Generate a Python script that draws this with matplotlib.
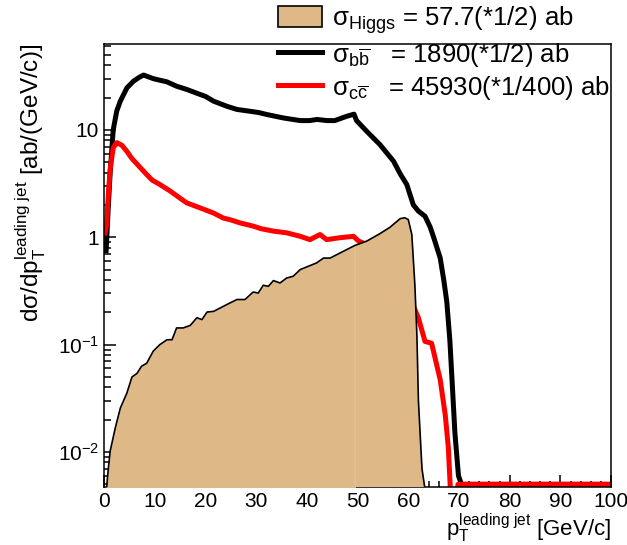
import numpy as np
import matplotlib.pyplot as plt
from matplotlib.patches import Patch
from matplotlib.lines import Line2D
from matplotlib.ticker import FixedLocator, FixedFormatter, LogLocator, MultipleLocator, NullFormatter

plt.rcParams['font.family'] = ['Liberation Sans', 'DejaVu Sans']
plt.rcParams['mathtext.fontset'] = 'custom'
plt.rcParams['mathtext.rm'] = 'Liberation Sans'
plt.rcParams['mathtext.it'] = 'Liberation Sans:italic'
plt.rcParams['mathtext.bf'] = 'Liberation Sans:bold'

# bb background (black)
bb_x = [0.4, 0.8, 1.2, 1.8, 2.5, 3.2, 4.5, 5.8, 7.0, 7.8, 8.5, 9.7, 11.0, 12.4, 14.3,
        16.3, 18.9, 20.0, 21.6, 24.2, 26.2, 28.8, 30.5, 32.1, 35.4, 38.7, 40.5, 42.0,
        44.0, 45.5, 47.9, 49.3, 49.8, 51.8, 54.4, 57.1, 58.4, 59.7, 61.0, 62.0, 63.3,
        64.3, 65.0, 66.3, 67.0, 67.6, 68.2, 68.6, 69.2, 69.9, 70.5, 100.0]
bb_y = [0.75, 1.8, 4.0, 10.0, 15.0, 18.5, 24.6, 28.4, 31.0, 32.4, 31.5, 30.0, 29.0, 28.0, 25.5,
        23.8, 21.4, 20.5, 18.5, 16.6, 15.5, 14.9, 14.5, 13.9, 12.9, 12.2, 12.2, 12.5,
        12.2, 12.2, 13.4, 14.0, 12.2, 9.7, 7.3, 5.1, 3.9, 3.1, 2.0, 1.75, 1.57,
        1.25, 1.0, 0.64, 0.4, 0.25, 0.11, 0.05, 0.015, 0.006, 0.005, 0.005]

# cc background (red)
cc_x = [0.2, 0.5, 0.9, 1.2, 1.8, 2.5, 3.5, 4.5, 5.5, 6.5, 8.4, 9.5, 11.0, 13.0, 14.5,
        16.3, 18.9, 21.6, 23.5, 25.0, 26.8, 29.4, 31.0, 33.4, 36.0, 38.7, 40.6, 42.6,
        43.9, 46.5, 49.2, 50.2, 52.0, 55.0, 58.0, 60.0, 62.0, 63.3, 64.6, 66.3, 67.3,
        67.9, 68.3, 69.5, 69.8, 100.0]
cc_y = [1.1, 1.3, 2.8, 4.3, 6.8, 7.6, 7.2, 6.3, 5.4, 4.8, 3.84, 3.4, 3.1, 2.7, 2.4,
        2.09, 1.88, 1.68, 1.51, 1.45, 1.36, 1.27, 1.2, 1.14, 1.10, 1.02, 0.95, 1.06,
        0.95, 0.99, 1.02, 0.92, 0.85, 0.7, 0.45, 0.3, 0.177, 0.107, 0.103, 0.047, 0.022,
        0.011, 0.0045, 0.003, 0.005, 0.005]

# Higgs signal (filled)
h_x = [0.4, 0.7, 1.2, 2.2, 3.2, 4.5, 5.5, 6.5, 7.4, 8.4, 9.7, 11.0, 12.4, 13.4, 14.3,
       15.6, 17.0, 18.3, 19.3, 20.3, 21.6, 24.2, 26.2, 27.8, 29.4, 30.4, 31.4, 32.4,
       33.4, 34.7, 36.0, 37.3, 38.7, 40.0, 41.9, 43.3, 44.6, 47.2, 49.5, 51.8, 54.4,
       56.4, 58.4, 59.3, 60.0, 60.7, 61.3, 61.7, 62.0, 62.7, 63.3, 63.6]
h_y = [0.004, 0.006, 0.0102, 0.0167, 0.0256, 0.0354, 0.050, 0.054, 0.063, 0.067, 0.087, 0.10,
       0.111, 0.111, 0.143, 0.143, 0.151, 0.178, 0.171, 0.201, 0.204, 0.236, 0.263, 0.263,
       0.309, 0.302, 0.357, 0.349, 0.395, 0.375, 0.417, 0.433, 0.50, 0.53, 0.576, 0.64,
       0.64, 0.74, 0.84, 0.92, 1.08, 1.24, 1.49, 1.52, 1.46, 1.06, 0.36, 0.123, 0.03,
       0.007, 0.0045, 0.003]

labels = [r'σ$_{\mathrm{Higgs}}$ = 57.7(*1/2) ab',
          r'σ$_{\mathrm{b}\overline{\mathrm{b}}}$   = 1890(*1/2) ab',
          r'σ$_{\mathrm{c}\overline{\mathrm{c}}}$   = 45930(*1/400) ab']

fill_col = '#deb887'

fig = plt.figure(figsize=(6.27, 5.45), dpi=100)
ax = fig.add_axes([0.166, 0.1064, 0.8086, 0.8128])

ax.plot(bb_x, bb_y, color='black', lw=3.6, zorder=2, solid_joinstyle='round')
ax.plot(cc_x, cc_y, color='red', lw=3.6, zorder=2.5, solid_joinstyle='round')

hx = np.array(h_x)
hy = np.array(h_y)
part1 = hx <= 49.5
part2 = hx >= 49.5
ax.fill_between(hx[part1], hy[part1], 1e-5, facecolor=fill_col, edgecolor='#e8cfaa', lw=0.5, zorder=3)
ax.fill_between(hx[part2], hy[part2], 1e-5, facecolor=fill_col, edgecolor='#e8cfaa', lw=0.5, zorder=3)
ax.plot(hx, hy, color='black', lw=1.2, zorder=3.5)

ax.set_yscale('log')
ax.set_xlim(0, 100)
ax.set_ylim(0.00472, 63)

ax.xaxis.set_major_locator(MultipleLocator(10))
ax.xaxis.set_minor_locator(MultipleLocator(2))
ax.yaxis.set_major_locator(FixedLocator([0.01, 0.1, 1, 10]))
ax.yaxis.set_major_formatter(FixedFormatter([r'$\mathrm{10^{-2}}$', r'$\mathrm{10^{-1}}$', '1', '10']))
ax.yaxis.set_minor_locator(LogLocator(base=10, subs=np.arange(2, 10), numticks=20))
ax.yaxis.set_minor_formatter(NullFormatter())

ax.tick_params(which='both', direction='in', top=False, right=False, width=1.1, labelsize=15)
ax.tick_params(axis='x', which='major', length=8.6, pad=3.5)
ax.tick_params(axis='x', which='minor', length=4.3)
ax.tick_params(axis='y', which='major', length=8.6, pad=3.5)
ax.tick_params(axis='y', which='minor', length=5.0)
for s in ax.spines.values():
    s.set_linewidth(1.1)

ax.set_xlabel(r'$\mathrm{p}_{\mathrm{T}}^{\mathrm{leading\ jet}}$ [GeV/c]', loc='right', fontsize=16, labelpad=0.5)
ax.set_ylabel(r'dσ/d$\mathrm{p}_{\mathrm{T}}^{\mathrm{leading\ jet}}$ [ab/(GeV/c)]', loc='top', fontsize=17.5, labelpad=7)

handles = [Patch(facecolor=fill_col, edgecolor='black', lw=1.2),
           Line2D([], [], color='black', lw=3.6),
           Line2D([], [], color='red', lw=3.6)]
leg = ax.legend(handles, labels, loc='upper left', bbox_to_anchor=(0.443, 0.993),
                bbox_transform=fig.transFigure, frameon=False, fontsize=18.5,
                handlelength=1.71, handleheight=0.9, handletextpad=0.39,
                labelspacing=0.2, borderpad=0, borderaxespad=0)
leg.set_zorder(5)

fig.savefig('out.png', dpi=100)
